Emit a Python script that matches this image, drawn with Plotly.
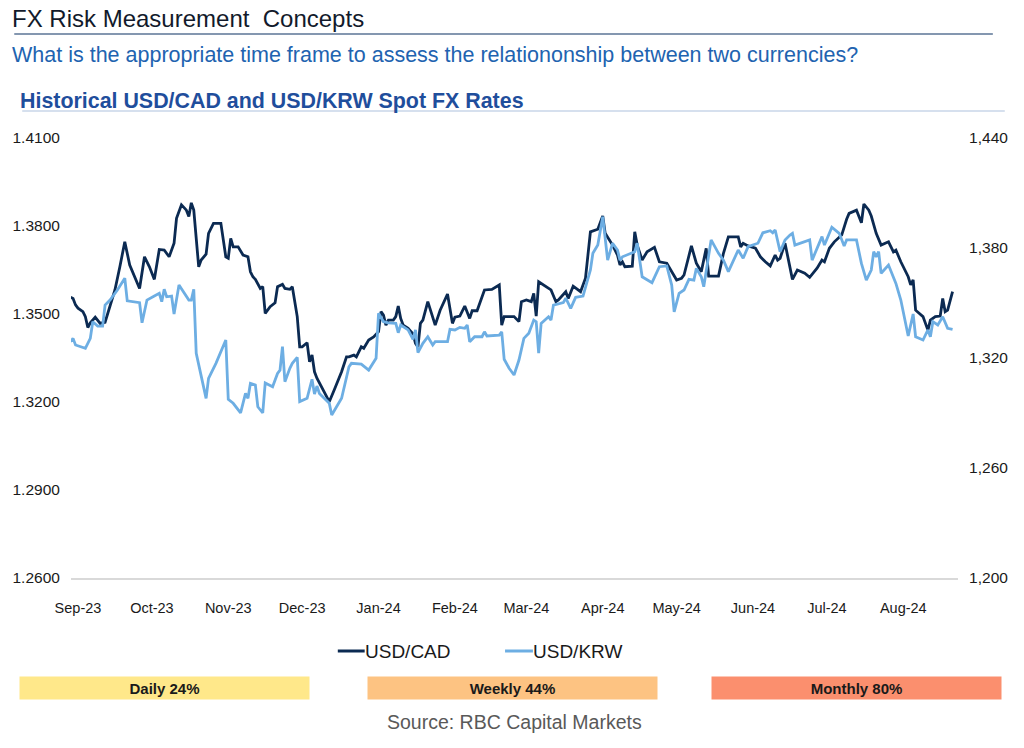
import plotly.graph_objects as go

# ---------------- data ----------------
cad_dates = [
    "2023-08-29", "2023-08-30", "2023-08-31", "2023-09-01", "2023-09-03", "2023-09-04", "2023-09-05",
    "2023-09-06", "2023-09-08", "2023-09-09", "2023-09-10", "2023-09-12", "2023-09-13", "2023-09-16",
    "2023-09-18", "2023-09-20", "2023-09-22", "2023-09-24", "2023-09-26", "2023-09-28", "2023-09-30",
    "2023-10-02", "2023-10-04", "2023-10-06", "2023-10-08", "2023-10-10", "2023-10-11", "2023-10-13",
    "2023-10-15", "2023-10-16", "2023-10-17", "2023-10-18", "2023-10-20", "2023-10-21", "2023-10-23",
    "2023-10-24", "2023-10-26", "2023-10-29", "2023-10-31",
    "2023-11-01", "2023-11-02", "2023-11-03", "2023-11-05", "2023-11-07", "2023-11-09", "2023-11-10",
    "2023-11-11", "2023-11-12", "2023-11-14", "2023-11-15", "2023-11-16", "2023-11-18", "2023-11-20",
    "2023-11-21", "2023-11-23", "2023-11-24", "2023-11-26", "2023-11-27", "2023-11-29", "2023-11-30",
    "2023-12-01", "2023-12-03", "2023-12-04", "2023-12-05", "2023-12-06", "2023-12-07", "2023-12-12",
    "2023-12-14", "2023-12-17", "2023-12-19", "2023-12-20", "2023-12-22", "2023-12-23", "2023-12-25",
    "2023-12-26", "2023-12-28", "2023-12-30",
    "2024-01-01", "2024-01-02", "2024-01-03", "2024-01-04", "2024-01-05", "2024-01-07", "2024-01-08",
    "2024-01-09", "2024-01-10", "2024-01-11", "2024-01-13", "2024-01-15", "2024-01-16", "2024-01-17",
    "2024-01-18", "2024-01-19", "2024-01-21", "2024-01-24", "2024-01-26", "2024-01-29", "2024-01-31",
    "2024-02-01", "2024-02-03", "2024-02-05", "2024-02-07", "2024-02-08", "2024-02-10", "2024-02-13",
    "2024-02-16", "2024-02-19", "2024-02-20", "2024-02-21", "2024-02-25", "2024-02-27", "2024-02-28",
    "2024-03-01", "2024-03-03", "2024-03-04", "2024-03-05", "2024-03-06", "2024-03-11", "2024-03-13",
    "2024-03-14", "2024-03-17", "2024-03-18", "2024-03-20", "2024-03-23", "2024-03-25", "2024-03-27",
    "2024-03-30",
    "2024-04-01", "2024-04-02", "2024-04-05", "2024-04-07", "2024-04-08", "2024-04-09", "2024-04-10",
    "2024-04-13", "2024-04-14", "2024-04-15", "2024-04-17", "2024-04-19", "2024-04-22", "2024-04-24",
    "2024-04-27", "2024-04-29",
    "2024-05-01", "2024-05-03", "2024-05-04", "2024-05-07", "2024-05-09", "2024-05-11", "2024-05-13",
    "2024-05-14", "2024-05-18", "2024-05-20", "2024-05-22", "2024-05-26", "2024-05-27", "2024-05-28",
    "2024-05-30",
    "2024-06-02", "2024-06-04", "2024-06-06", "2024-06-08", "2024-06-10", "2024-06-11", "2024-06-12",
    "2024-06-14", "2024-06-17", "2024-06-19", "2024-06-22", "2024-06-24", "2024-06-27", "2024-06-29",
    "2024-06-30",
    "2024-07-02", "2024-07-04", "2024-07-07", "2024-07-09", "2024-07-10", "2024-07-13", "2024-07-15",
    "2024-07-16", "2024-07-18", "2024-07-19", "2024-07-21", "2024-07-23", "2024-07-25", "2024-07-26",
    "2024-07-28", "2024-07-29", "2024-07-31",
    "2024-08-03", "2024-08-04", "2024-08-05", "2024-08-06", "2024-08-09", "2024-08-11", "2024-08-12",
    "2024-08-14", "2024-08-16", "2024-08-17", "2024-08-18", "2024-08-19", "2024-08-21",
]
usd_cad = [
    1.3557, 1.3553, 1.3531, 1.3520, 1.3508, 1.3491, 1.3454, 1.3470, 1.3489, 1.3479, 1.3468, 1.3472,
    1.3500, 1.3582, 1.3661, 1.3746, 1.3667, 1.3627, 1.3587, 1.3695, 1.3661,
    1.3618, 1.3720, 1.3718, 1.3695, 1.3741, 1.3826, 1.3872, 1.3854, 1.3832, 1.3879, 1.3854, 1.3661,
    1.3684, 1.3704, 1.3775, 1.3809, 1.3809, 1.3695,
    1.3690, 1.3758, 1.3729, 1.3729, 1.3701, 1.3695, 1.3644, 1.3627, 1.3618, 1.3587, 1.3593, 1.3502,
    1.3525, 1.3538, 1.3593, 1.3601, 1.3587, 1.3584, 1.3593, 1.3491, 1.3388,
    1.3388, 1.3402, 1.3337, 1.3360, 1.3303, 1.3281, 1.3201, 1.3241, 1.3303, 1.3354, 1.3354, 1.3360,
    1.3354, 1.3388, 1.3383, 1.3411, 1.3422,
    1.3440, 1.3508, 1.3496, 1.3462, 1.3479, 1.3479, 1.3491, 1.3527, 1.3485, 1.3462, 1.3451, 1.3432,
    1.3400, 1.3388, 1.3468, 1.3479, 1.3542, 1.3462, 1.3513, 1.3568, 1.3468,
    1.3489, 1.3493, 1.3527, 1.3485, 1.3511, 1.3511, 1.3582, 1.3584, 1.3599, 1.3462, 1.3491, 1.3491,
    1.3474, 1.3542,
    1.3548, 1.3542, 1.3570, 1.3493, 1.3610, 1.3582, 1.3542, 1.3548, 1.3576, 1.3553, 1.3595, 1.3576,
    1.3622, 1.3780, 1.3789,
    1.3834, 1.3775, 1.3735, 1.3701, 1.3667, 1.3678, 1.3661, 1.3663, 1.3780, 1.3735, 1.3684, 1.3712,
    1.3727, 1.3678, 1.3673, 1.3644,
    1.3616, 1.3622, 1.3633, 1.3732, 1.3673, 1.3644, 1.3724, 1.3629, 1.3629, 1.3707, 1.3763, 1.3763,
    1.3729, 1.3741, 1.3732,
    1.3724, 1.3695, 1.3678, 1.3664, 1.3701, 1.3684, 1.3690, 1.3741, 1.3618, 1.3650, 1.3639, 1.3625,
    1.3656, 1.3684, 1.3678,
    1.3724, 1.3746, 1.3769, 1.3823, 1.3843, 1.3854, 1.3811, 1.3875, 1.3854, 1.3834, 1.3775, 1.3735,
    1.3741, 1.3746, 1.3712, 1.3718, 1.3678,
    1.3627, 1.3599, 1.3616, 1.3513, 1.3491, 1.3445, 1.3479, 1.3491, 1.3493, 1.3553, 1.3508, 1.3513,
    1.3576,
]

krw_dates = [
    "2023-08-29", "2023-08-30", "2023-08-31", "2023-09-04", "2023-09-06", "2023-09-07", "2023-09-09",
    "2023-09-11", "2023-09-12", "2023-09-14", "2023-09-17", "2023-09-20", "2023-09-21", "2023-09-26",
    "2023-09-27", "2023-09-29",
    "2023-10-02", "2023-10-04", "2023-10-05", "2023-10-06", "2023-10-07", "2023-10-09", "2023-10-10",
    "2023-10-12", "2023-10-16", "2023-10-17", "2023-10-18", "2023-10-19", "2023-10-23", "2023-10-24",
    "2023-10-25", "2023-10-27", "2023-10-31",
    "2023-11-01", "2023-11-03", "2023-11-06", "2023-11-08", "2023-11-09", "2023-11-10", "2023-11-12",
    "2023-11-13", "2023-11-15", "2023-11-16", "2023-11-19", "2023-11-21", "2023-11-22", "2023-11-23",
    "2023-11-24", "2023-11-26", "2023-11-27", "2023-11-29", "2023-11-30",
    "2023-12-03", "2023-12-05", "2023-12-06", "2023-12-07", "2023-12-08", "2023-12-12", "2023-12-13",
    "2023-12-17", "2023-12-20", "2023-12-21", "2023-12-25", "2023-12-28", "2023-12-31",
    "2024-01-01", "2024-01-03", "2024-01-05", "2024-01-08", "2024-01-09", "2024-01-10", "2024-01-13",
    "2024-01-15", "2024-01-16", "2024-01-17", "2024-01-19", "2024-01-21", "2024-01-23", "2024-01-24",
    "2024-01-29", "2024-01-30",
    "2024-02-01", "2024-02-03", "2024-02-05", "2024-02-06", "2024-02-07", "2024-02-09", "2024-02-12",
    "2024-02-13", "2024-02-14", "2024-02-19", "2024-02-20", "2024-02-21", "2024-02-23", "2024-02-25",
    "2024-02-27", "2024-02-29",
    "2024-03-02", "2024-03-04", "2024-03-05", "2024-03-06", "2024-03-07", "2024-03-10", "2024-03-11",
    "2024-03-12", "2024-03-16", "2024-03-17", "2024-03-19", "2024-03-21", "2024-03-24", "2024-03-27",
    "2024-03-28", "2024-03-30",
    "2024-04-01", "2024-04-03", "2024-04-05", "2024-04-07", "2024-04-08", "2024-04-09", "2024-04-14",
    "2024-04-15", "2024-04-17", "2024-04-21", "2024-04-24", "2024-04-27", "2024-04-29", "2024-04-30",
    "2024-05-02", "2024-05-04", "2024-05-06", "2024-05-08", "2024-05-09", "2024-05-11", "2024-05-12",
    "2024-05-15", "2024-05-18", "2024-05-20", "2024-05-22", "2024-05-26", "2024-05-28", "2024-05-30",
    "2024-06-01", "2024-06-03", "2024-06-05", "2024-06-08", "2024-06-09", "2024-06-10", "2024-06-12",
    "2024-06-14", "2024-06-16", "2024-06-17", "2024-06-18", "2024-06-20", "2024-06-24", "2024-06-25",
    "2024-06-29", "2024-06-30",
    "2024-07-03", "2024-07-06", "2024-07-08", "2024-07-09", "2024-07-13", "2024-07-15", "2024-07-17",
    "2024-07-19", "2024-07-20", "2024-07-21", "2024-07-22", "2024-07-23", "2024-07-26", "2024-07-29",
    "2024-07-31",
    "2024-08-03", "2024-08-05", "2024-08-06", "2024-08-09", "2024-08-11", "2024-08-12", "2024-08-13",
    "2024-08-15", "2024-08-17", "2024-08-19", "2024-08-21",
]
usd_krw = [
    1328.9, 1330.7, 1327.1, 1325.3, 1330.7, 1339.8, 1337.4, 1337.4, 1348.9, 1351.6, 1357.1, 1363.5,
    1351.2, 1350.2, 1339.2, 1351.6,
    1353.8, 1355.3, 1350.7, 1357.5, 1353.4, 1353.8, 1344.0, 1359.8, 1351.6, 1351.6, 1357.5, 1322.6,
    1298.0, 1308.9, 1311.6, 1317.1, 1329.8,
    1297.5, 1295.3, 1290.1, 1300.7, 1298.0, 1306.2, 1305.3, 1293.4, 1290.0, 1306.4, 1304.3, 1311.6,
    1313.4, 1326.2, 1307.1, 1314.4, 1317.1, 1320.4, 1296.2,
    1298.0, 1308.4, 1300.3, 1304.7, 1300.7, 1295.3, 1288.9, 1298.0, 1315.2, 1317.1, 1316.7, 1313.4,
    1319.8,
    1344.4, 1339.8, 1339.2, 1338.9, 1333.8, 1338.0, 1335.3, 1330.2, 1335.3, 1322.9, 1328.0, 1331.6,
    1327.1, 1328.9, 1328.9, 1335.6,
    1335.3, 1336.7, 1336.2, 1338.0, 1328.9, 1331.6, 1331.6, 1334.3, 1332.0, 1332.5, 1334.3, 1319.3,
    1314.4, 1310.7, 1318.9, 1330.7,
    1333.5, 1340.7, 1339.8, 1322.6, 1338.9, 1342.5, 1340.7, 1348.9, 1350.2, 1352.6, 1347.1, 1353.1,
    1353.8, 1368.0, 1377.1, 1381.6,
    1397.1, 1373.4, 1382.6, 1378.9, 1373.4, 1375.2, 1378.0, 1382.6, 1364.3, 1361.1, 1369.8, 1370.2,
    1359.8, 1345.2,
    1355.3, 1357.1, 1362.9, 1362.5, 1368.9, 1364.3, 1358.9, 1384.4, 1377.1, 1373.4, 1367.1, 1378.9,
    1374.4, 1380.7,
    1381.6, 1382.6, 1388.3, 1389.4, 1388.3, 1389.8, 1378.0, 1384.4, 1387.1, 1388.0, 1381.6, 1382.6,
    1384.4, 1373.4, 1386.2, 1381.6,
    1391.3, 1388.0, 1381.1, 1384.4, 1384.4, 1371.6, 1362.5, 1368.0, 1378.0, 1375.2, 1378.0, 1366.2,
    1370.7, 1360.7, 1351.6,
    1332.0, 1344.0, 1331.6, 1329.8, 1335.3, 1331.6, 1339.8, 1338.0, 1342.5, 1336.2, 1335.6,
]

cad_ticks = [1.26, 1.29, 1.32, 1.35, 1.38, 1.41]
krw_ticks = [1200, 1260, 1320, 1380, 1440]
x_range = ["2023-08-29 04:00", "2024-08-23 05:00"]

window_labels = ["Daily 24%", "Weekly 44%", "Monthly 80%"]
window_colors = ["#FFE88A", "#FDC382", "#FB8F6E"]

title_text = "FX Risk Measurement  Concepts"
subtitle_text = "What is the appropriate time frame to assess the relationonship between two currencies?"
chart_title_text = "Historical USD/CAD and USD/KRW Spot FX Rates"
source_text = "Source: RBC Capital Markets"

CAD_COLOR = "#0B2A52"
KRW_COLOR = "#6DAEE3"
FONT = "Liberation Sans, Arial, sans-serif"

# ---------------- figure ----------------
W, H = 1024, 748
L, R, T, B = 67, 958, 138, 578  # plot area in pixels


def px(xp):
    return (xp - L) / (R - L)


def py(yp):
    return (B - yp) / (B - T)


fig = go.Figure()
fig.add_trace(go.Scatter(x=cad_dates, y=usd_cad, mode="lines", name="USD/CAD",
                         line=dict(color=CAD_COLOR, width=2.8), yaxis="y", showlegend=False))
fig.add_trace(go.Scatter(x=krw_dates, y=usd_krw, mode="lines", name="USD/KRW",
                         line=dict(color=KRW_COLOR, width=2.8), yaxis="y2", showlegend=False))

tick_font = dict(family=FONT, size=15.5, color="#1A1A1A")

fig.update_layout(
    width=W, height=H,
    margin=dict(l=L, r=W - R, t=T, b=H - B, pad=0),
    paper_bgcolor="white", plot_bgcolor="white",
    font=dict(family=FONT),
    xaxis=dict(type="date", range=x_range, tickformat="%b-%y", dtick="M1", tick0="2023-09-01",
               showgrid=False, zeroline=False, showline=True, linecolor="#D9D9D9", linewidth=1.5,
               ticks="outside", ticklen=16, tickcolor="rgba(0,0,0,0)",
               tickfont=dict(family=FONT, size=14.5, color="#1A1A1A")),
    yaxis=dict(range=[1.26, 1.41], tickvals=cad_ticks, tickformat=".4f",
               showgrid=False, zeroline=False, showline=False,
               ticks="outside", ticklen=7, tickcolor="rgba(0,0,0,0)", tickfont=tick_font),
    yaxis2=dict(range=[1200, 1440], tickvals=krw_ticks, tickformat=",d", overlaying="y", side="right",
                showgrid=False, zeroline=False, showline=False,
                ticks="outside", ticklen=7, tickcolor="rgba(0,0,0,0)", tickfont=tick_font),
)

shapes = [
    dict(type="line", xref="paper", yref="paper", x0=px(10), x1=px(993), y0=py(34), y1=py(34),
         line=dict(color="#8497B0", width=2)),
    dict(type="line", xref="paper", yref="paper", x0=px(18), x1=px(1005), y0=py(111), y1=py(111),
         line=dict(color="#C9D6E8", width=1.5)),
    # legend samples
    dict(type="line", xref="paper", yref="paper", x0=px(335), x1=px(362), y0=py(651), y1=py(651),
         line=dict(color=CAD_COLOR, width=3)),
    dict(type="line", xref="paper", yref="paper", x0=px(503), x1=px(531), y0=py(651), y1=py(651),
         line=dict(color=KRW_COLOR, width=3)),
]

annotations = [
    dict(text=title_text, x=px(6), y=py(18), xref="paper", yref="paper", xanchor="left",
         yanchor="middle", showarrow=False, font=dict(family=FONT, size=24, color="#121A2B")),
    dict(text=subtitle_text, x=px(6), y=py(55), xref="paper", yref="paper", xanchor="left",
         yanchor="middle", showarrow=False, font=dict(family=FONT, size=21.5, color="#2163B0")),
    dict(text="<b>" + chart_title_text + "</b>", x=px(14), y=py(101), xref="paper", yref="paper",
         xanchor="left", yanchor="middle", showarrow=False,
         font=dict(family=FONT, size=21.4, color="#1F4E9C")),
    dict(text="USD/CAD", x=px(360), y=py(651), xref="paper", yref="paper", xanchor="left",
         yanchor="middle", showarrow=False, font=dict(family=FONT, size=19, color="#1A1A1A")),
    dict(text="USD/KRW", x=px(529), y=py(651), xref="paper", yref="paper", xanchor="left",
         yanchor="middle", showarrow=False, font=dict(family=FONT, size=19, color="#1A1A1A")),
    dict(text=source_text, x=px(512), y=py(722), xref="paper", yref="paper", xanchor="center",
         yanchor="middle", showarrow=False, font=dict(family=FONT, size=19.5, color="#595959")),
]

box_centers = [161, 510, 856]
for lab, col, cx in zip(window_labels, window_colors, box_centers):
    annotations.append(dict(text="<b>" + lab + "</b>", x=px(cx), y=py(687.5), xref="paper",
                            yref="paper", xanchor="center", yanchor="middle", showarrow=False,
                            width=289, height=22, bgcolor=col, borderpad=0, align="center",
                            font=dict(family=FONT, size=15, color="#1A1A1A")))

fig.update_layout(shapes=shapes, annotations=annotations)

fig.write_html("out.html", config={"displayModeBar": False},
               post_script="document.body.style.margin='0';document.body.style.overflow='hidden';")
